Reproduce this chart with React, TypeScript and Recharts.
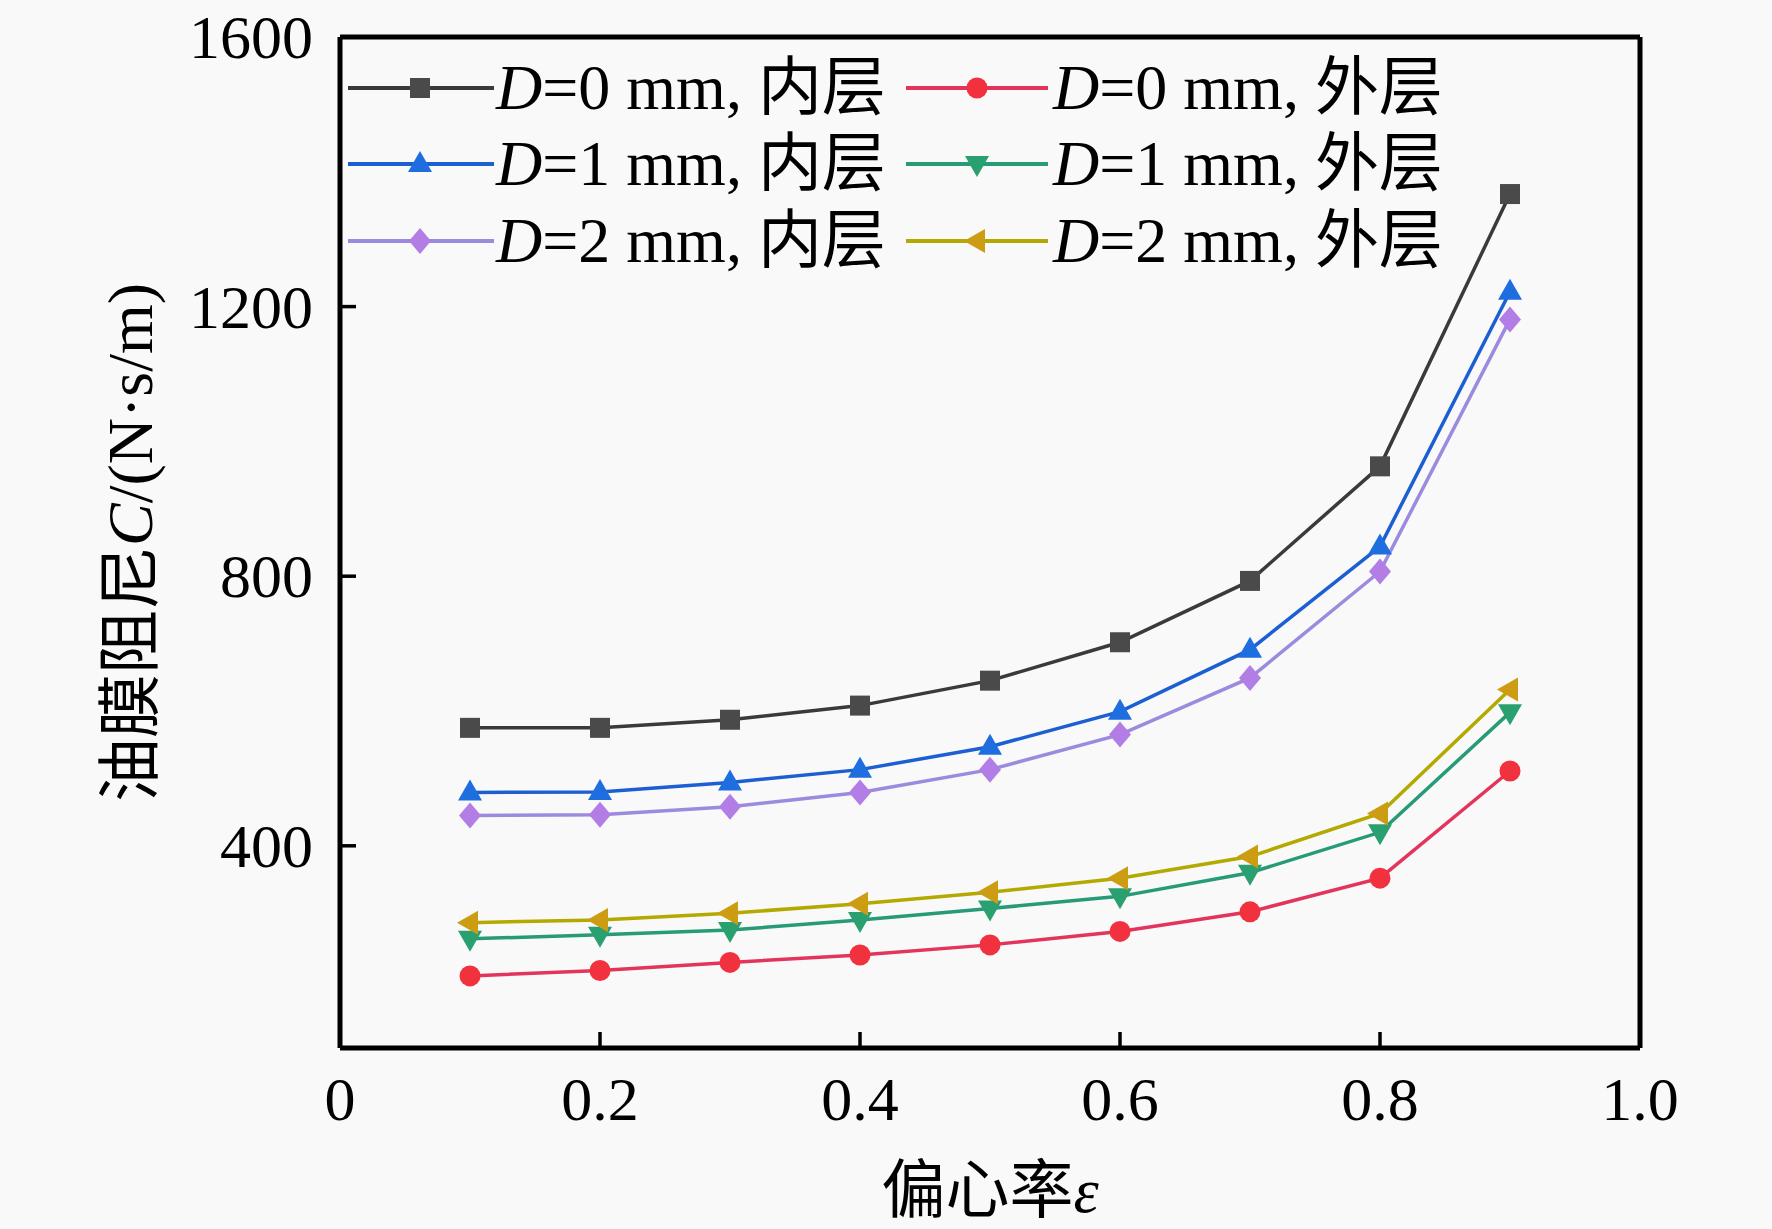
import React from 'react';
import { LineChart, Line, XAxis, YAxis, ReferenceLine } from 'recharts';

const xValues = [0.1, 0.2, 0.3, 0.4, 0.5, 0.6, 0.7, 0.8, 0.9];
const d0Inner = [575, 575, 587, 608, 645, 702, 793, 963, 1367];
const d0Outer = [207, 215, 227, 238, 253, 273, 302, 352, 511];
const d1Inner = [479, 480, 494, 513, 547, 599, 691, 844, 1222];
const d1Outer = [262, 268, 275, 290, 307, 325, 360, 420, 598];
const d2Inner = [445, 446, 458, 479, 513, 565, 649, 807, 1181];
const d2Outer = [286, 290, 300, 314, 331, 352, 384, 448, 632];

const xTicks = [0, 0.2, 0.4, 0.6, 0.8, 1.0];
const yTicks = [400, 800, 1200, 1600];
const xMax = 1;
const yMin = 100;
const yMax = 1600;

const seriesNames = [
  'D=0 mm, 内层',
  'D=0 mm, 外层',
  'D=1 mm, 内层',
  'D=1 mm, 外层',
  'D=2 mm, 内层',
  'D=2 mm, 外层',
];

const data = xValues.map((x, i) => ({
  x,
  s0: d0Inner[i],
  s1: d0Outer[i],
  s2: d1Inner[i],
  s3: d1Outer[i],
  s4: d2Inner[i],
  s5: d2Outer[i],
}));

type Shape = 'square' | 'circle' | 'up' | 'down' | 'diamond' | 'left';

const series: { key: string; name: string; line: string; fill: string; shape: Shape }[] = [
  { key: 's0', name: seriesNames[0], line: '#3a3a3a', fill: '#4a4a4a', shape: 'square' },
  { key: 's1', name: seriesNames[1], line: '#e3345c', fill: '#f2313f', shape: 'circle' },
  { key: 's2', name: seriesNames[2], line: '#1b5fd3', fill: '#1f6ee0', shape: 'up' },
  { key: 's3', name: seriesNames[3], line: '#279a78', fill: '#2aa070', shape: 'down' },
  { key: 's4', name: seriesNames[4], line: '#9c8ade', fill: '#b27ee6', shape: 'diamond' },
  { key: 's5', name: seriesNames[5], line: '#b3a900', fill: '#cc9c12', shape: 'left' },
];

const SERIF = "'Liberation Serif', 'Times New Roman', 'Noto Sans CJK SC', serif";

function marker(shape: Shape, cx: number, cy: number, fill: string, key?: string) {
  switch (shape) {
    case 'square':
      return <rect key={key} x={cx - 10} y={cy - 10} width={20} height={20} fill={fill} />;
    case 'circle':
      return <circle key={key} cx={cx} cy={cy} r={10.5} fill={fill} />;
    case 'up':
      return <polygon key={key} points={`${cx},${cy - 13} ${cx - 12},${cy + 8} ${cx + 12},${cy + 8}`} fill={fill} />;
    case 'down':
      return <polygon key={key} points={`${cx},${cy + 13} ${cx - 12},${cy - 8} ${cx + 12},${cy - 8}`} fill={fill} />;
    case 'diamond':
      return <polygon key={key} points={`${cx},${cy - 13} ${cx + 11},${cy} ${cx},${cy + 13} ${cx - 11},${cy}`} fill={fill} />;
    case 'left':
    default:
      return <polygon key={key} points={`${cx - 13},${cy} ${cx + 8},${cy - 12} ${cx + 8},${cy + 12}`} fill={fill} />;
  }
}

const makeDot = (shape: Shape, fill: string) => (props: any) => {
  const { cx, cy, index } = props;
  if (cx == null || cy == null) return <g key={`e-${index}`} />;
  return marker(shape, cx, cy, fill, `d-${shape}-${index}`);
};

const fmtX = (v: number) => (v === 0 ? '0' : v.toFixed(1));

const XTick = (props: any) => {
  const { x, y, payload } = props;
  const v = payload?.value;
  const atEdge = v === 0 || v === 1;
  return (
    <g>
      {!atEdge && <line x1={x} x2={x} y1={y} y2={y - 16} stroke="#000" strokeWidth={3.5} />}
      <text x={x} y={y + 72} textAnchor="middle" fontFamily={SERIF} fontSize={62} fill="#000">
        {fmtX(v)}
      </text>
    </g>
  );
};

const YTick = (props: any) => {
  const { x, y, payload } = props;
  const v = payload?.value;
  return (
    <g>
      {v !== 1600 && <line x1={x} x2={x + 16} y1={y} y2={y} stroke="#000" strokeWidth={3.5} />}
      <text x={x - 27} y={y + 21} textAnchor="end" fontFamily={SERIF} fontSize={62} fill="#000">
        {String(v)}
      </text>
    </g>
  );
};

const YTitle = (props: any) => {
  const vb = props.viewBox || {};
  const cx = 130;
  const cy = (vb.y ?? 37) + (vb.height ?? 1011) / 2;
  return (
    <text
      x={cx}
      y={cy}
      transform={`rotate(-90, ${cx}, ${cy})`}
      textAnchor="middle"
      dominantBaseline="central"
      fontFamily={SERIF}
      fontSize={64}
      fill="#000"
    >
      <tspan>油膜阻尼</tspan>
      <tspan fontStyle="italic">C</tspan>
      <tspan>/(N·s/m)</tspan>
    </text>
  );
};

const XTitle = (props: any) => {
  const vb = props.viewBox || {};
  const cx = (vb.x ?? 340) + (vb.width ?? 1300) / 2;
  return (
    <text x={cx} y={1212} textAnchor="middle" fontFamily={SERIF} fontSize={64} fill="#000">
      <tspan>偏心率</tspan>
      <tspan fontStyle="italic">ε</tspan>
    </text>
  );
};

const LegendOverlay = () => {
  const rows = [88, 164, 241];
  const cols = [
    { x1: 348, x2: 494, mx: 420, tx: 496 },
    { x1: 906, x2: 1048, mx: 977, tx: 1053 },
  ];
  const items: React.ReactNode[] = [];
  series.forEach((s, i) => {
    const row = rows[Math.floor(i / 2)];
    const c = cols[i % 2];
    const parts = s.name.split('=');
    items.push(
      <g key={s.key}>
        <line x1={c.x1} x2={c.x2} y1={row} y2={row} stroke={s.line} strokeWidth={4} />
        {marker(s.shape, c.mx, row, s.fill)}
        <text x={c.tx} y={row + 21} fontFamily={SERIF} fontSize={64} fill="#000">
          <tspan fontStyle="italic">{parts[0]}</tspan>
          <tspan>={parts[1]}</tspan>
        </text>
      </g>
    );
  });
  return (
    <svg
      width={1772}
      height={1229}
      style={{ position: 'absolute', left: 0, top: 0, pointerEvents: 'none' }}
    >
      {items}
    </svg>
  );
};

export default function App() {
  return (
    <div
      style={{
        position: 'absolute',
        left: 0,
        top: 0,
        width: 1772,
        height: 1229,
        background: '#f9f9f9',
        overflow: 'hidden',
      }}
    >
      <LineChart
        width={1772}
        height={1229}
        data={data}
        margin={{ top: 37, right: 132, left: 240, bottom: 101 }}
      >
        <XAxis
          dataKey="x"
          type="number"
          domain={[0, xMax]}
          ticks={xTicks}
          height={80}
          interval={0}
          axisLine={{ stroke: '#000', strokeWidth: 5 }}
          tickLine={false}
          tickSize={0}
          tickMargin={0}
          tick={<XTick />}
          label={<XTitle />}
        />
        <YAxis
          type="number"
          domain={[yMin, yMax]}
          ticks={yTicks}
          width={100}
          interval={0}
          axisLine={{ stroke: '#000', strokeWidth: 5 }}
          tickLine={false}
          tickSize={0}
          tickMargin={0}
          tick={<YTick />}
          label={<YTitle />}
        />
        <ReferenceLine y={yMax} stroke="#000" strokeWidth={5} ifOverflow="visible" />
        <ReferenceLine x={xMax} stroke="#000" strokeWidth={5} ifOverflow="visible" />
        {series.map((s) => (
          <Line
            key={s.key}
            type="linear"
            dataKey={s.key}
            name={s.name}
            stroke={s.line}
            strokeWidth={3.5}
            dot={makeDot(s.shape, s.fill)}
            activeDot={false}
            isAnimationActive={false}
          />
        ))}
      </LineChart>
      <LegendOverlay />
    </div>
  );
}
